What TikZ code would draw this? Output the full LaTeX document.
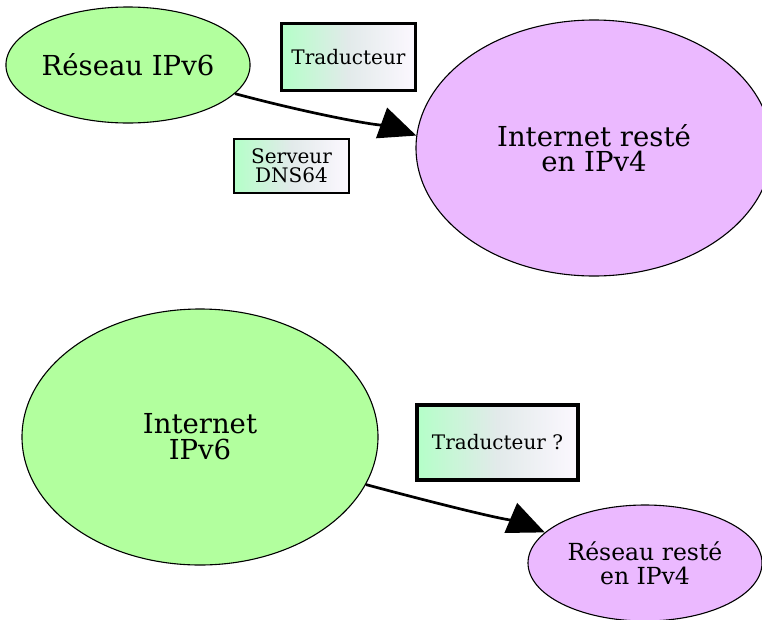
\documentclass[tikz,border=0pt]{standalone}
\usepackage{fontspec}
\setmainfont{DejaVu Serif}
\usetikzlibrary{shapes.geometric,arrows.meta}
\definecolor{vgreen}{RGB}{178,255,158}
\definecolor{vviolet}{RGB}{235,185,255}
\definecolor{gleft}{RGB}{180,255,200}
\definecolor{gmid}{RGB}{226,234,234}
\definecolor{gright}{RGB}{252,248,255}
\begin{document}
\begin{tikzpicture}[x=1pt,y=-1pt,
  net/.style={ellipse, draw=black, line width=1.1pt, inner sep=0pt, align=center},
  tbox/.style={rectangle, draw=black, inner sep=0pt, align=center,
    left color=gleft, right color=gright, middle color=gmid,
    font=\fontsize{20}{19}\selectfont},
  conn/.style={line width=2.7pt, -{Triangle[length=37pt,width=32pt]}}]
\useasboundingbox (0,0) rectangle (762,619);
\clip (0,0) rectangle (762,619);
\node[net, fill=vgreen, minimum width=234pt, minimum height=116pt,
  font=\fontsize{27.5}{25}\selectfont] (a) at (128,65) {Réseau IPv6};
\node[net, fill=vviolet, minimum width=356pt, minimum height=256pt,
  font=\fontsize{27.5}{25}\selectfont] (b) at (594,148) {Internet resté\\en IPv4};
\node[tbox, line width=3.8pt, minimum width=134pt, minimum height=67pt] (t1) at (348.5,57) {Traducteur};
\node[tbox, line width=2.4pt, minimum width=115pt, minimum height=54pt] (s) at (291.5,166) {Serveur\\DNS64};
\node[net, fill=vgreen, minimum width=356pt, minimum height=256pt,
  font=\fontsize{27.5}{26}\selectfont] (c) at (200,437) {Internet\\IPv6};
\node[tbox, line width=3.8pt, minimum width=161pt, minimum height=75pt] (t2) at (497.5,442.5) {Traducteur ?};
\node[net, fill=vviolet, minimum width=234pt, minimum height=116pt,
  font=\fontsize{23.5}{24}\selectfont] (d) at (645,563) {Réseau resté\\en IPv4};
\draw[conn] (a.-15) .. controls +(15:90) and +(-160:14) .. (b.176.8);
\draw[conn] (c.-16.8) .. controls +(15:90) and +(-157:14) .. (d.163.6);
\end{tikzpicture}
\end{document}
